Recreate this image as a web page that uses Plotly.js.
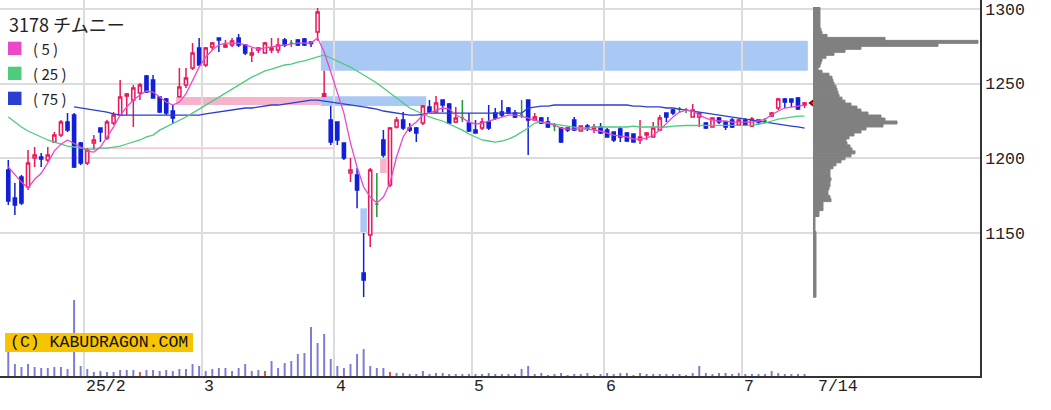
<!DOCTYPE html>
<html>
<head>
<meta charset="utf-8">
<script src="https://cdn.plot.ly/plotly-3.0.1.min.js"></script>
<style>html,body{margin:0;padding:0;background:#fff;}#chart{width:1051px;height:410px;}</style>
</head>
<body>
<div id="chart"></div>
<script>
// ---------------- data ----------------
const dates = [
'2025-01-16','2025-01-17','2025-01-20','2025-01-21','2025-01-22','2025-01-23','2025-01-24','2025-01-27','2025-01-28','2025-01-29',
'2025-01-30','2025-01-31','2025-02-03','2025-02-04','2025-02-05','2025-02-06','2025-02-07','2025-02-10','2025-02-12','2025-02-13',
'2025-02-14','2025-02-17','2025-02-18','2025-02-19','2025-02-20','2025-02-21','2025-02-25','2025-02-26','2025-02-27','2025-02-28',
'2025-03-03','2025-03-04','2025-03-05','2025-03-06','2025-03-07','2025-03-10','2025-03-11','2025-03-12','2025-03-13','2025-03-14',
'2025-03-17','2025-03-18','2025-03-19','2025-03-21','2025-03-24','2025-03-25','2025-03-26','2025-03-27','2025-03-28','2025-03-31',
'2025-04-01','2025-04-02','2025-04-03','2025-04-04','2025-04-07','2025-04-08','2025-04-09','2025-04-10','2025-04-11','2025-04-14',
'2025-04-15','2025-04-16','2025-04-17','2025-04-18','2025-04-21','2025-04-22','2025-04-23','2025-04-24','2025-04-25','2025-04-28',
'2025-04-30','2025-05-01','2025-05-02','2025-05-07','2025-05-08','2025-05-09','2025-05-12','2025-05-13','2025-05-14','2025-05-15',
'2025-05-16','2025-05-19','2025-05-20','2025-05-21','2025-05-22','2025-05-23','2025-05-26','2025-05-27','2025-05-28','2025-05-29',
'2025-05-30','2025-06-02','2025-06-03','2025-06-04','2025-06-05','2025-06-06','2025-06-09','2025-06-10','2025-06-11','2025-06-12',
'2025-06-13','2025-06-16','2025-06-17','2025-06-18','2025-06-19','2025-06-20','2025-06-23','2025-06-24','2025-06-25','2025-06-26',
'2025-06-27','2025-06-30','2025-07-01','2025-07-02','2025-07-03','2025-07-04','2025-07-07','2025-07-08','2025-07-09','2025-07-10',
'2025-07-11','2025-07-14'];

const open = [
1192.2,1173.4,1187.5,1180.8,1200.2,1200.9,1198.9,1210.9,1215.6,1224.3,
1229.0,1210.2,1196.8,1210.2,1220.3,1213.6,1223.6,1229.0,1241.7,1239.0,
1243.7,1255.1,1252.4,1241.0,1239.7,1231.7,1241.3,1249.1,1260.5,1273.9,
1262.5,1274.5,1280.6,1274.5,1275.9,1280.6,1275.9,1269.2,1272.5,1270.5,
1272.5,1272.5,1279.2,1277.2,1279.2,1279.9,1277.9,1284.6,1241.5,1225.6,
1224.3,1210.2,1190.2,1188.8,1123.2,1148.6,1169.2,1212.2,1182.1,1221.0,
1225.6,1220.3,1220.3,1223.6,1234.3,1231.0,1239.0,1236.4,1224.3,1227.0,
1223.6,1218.9,1220.3,1224.3,1230.3,1231.0,1233.7,1230.3,1229.0,1239.0,
1225.6,1227.0,1224.3,1221.6,1220.3,1220.3,1225.6,1218.3,1221.6,1219.6,
1221.0,1218.9,1217.6,1219.6,1216.9,1216.3,1212.2,1215.6,1214.3,1218.9,
1230.3,1232.3,1233.0,1232.3,1227.6,1227.6,1223.6,1221.0,1227.0,1224.3,
1225.6,1222.3,1225.6,1221.6,1225.6,1225.2,1228.3,1233.7,1239.7,1239.7,
1240.4,1235.7];

const high = [
1198.9,1183.5,1188.8,1205.6,1207.6,1203.5,1207.6,1217.6,1225.6,1230.3,
1230.3,1210.9,1206.9,1215.6,1220.3,1225.6,1231.0,1252.4,1243.7,1249.1,
1250.4,1255.8,1255.8,1241.2,1240.4,1235.7,1260.5,1260.5,1277.2,1280.6,
1274.5,1277.9,1280.8,1279.2,1280.6,1283.3,1276.5,1273.9,1274.5,1277.9,
1280.6,1280.6,1280.6,1279.2,1279.9,1280.6,1278.1,1300.6,1258.7,1235.0,
1224.6,1210.5,1200.2,1193.5,1150.0,1193.5,1190.2,1218.9,1221.0,1227.6,
1231.0,1223.6,1221.0,1235.7,1239.0,1241.7,1239.4,1237.0,1234.3,1239.0,
1230.3,1225.6,1227.0,1235.7,1233.7,1239.0,1234.3,1232.3,1239.0,1239.5,
1230.3,1227.6,1227.6,1223.6,1221.0,1220.5,1227.6,1222.0,1223.0,1223.0,
1223.6,1220.3,1217.8,1221.0,1217.6,1216.5,1225.6,1217.6,1224.3,1229.0,
1230.5,1233.0,1234.3,1233.7,1236.4,1230.5,1224.3,1227.2,1227.6,1225.0,
1227.0,1227.0,1227.0,1227.6,1225.8,1227.0,1231.0,1240.4,1240.4,1239.8,
1241.0,1237.7];

const low = [
1168.7,1162.0,1168.7,1178.8,1194.2,1194.2,1197.5,1210.2,1214.3,1217.6,
1193.5,1195.5,1195.5,1205.6,1210.9,1212.2,1222.3,1228.3,1229.0,1221.0,
1239.0,1243.7,1240.0,1230.3,1229.0,1223.0,1241.0,1247.1,1259.1,1262.0,
1261.1,1272.5,1271.2,1273.9,1274.5,1274.5,1269.2,1264.5,1270.5,1270.2,
1270.5,1270.5,1274.5,1274.5,1275.2,1275.2,1274.5,1278.8,1241.5,1208.9,
1208.9,1198.9,1184.1,1166.5,1107.1,1140.6,1160.7,1200.5,1180.8,1220.0,
1218.9,1217.6,1210.9,1222.3,1230.3,1230.7,1231.0,1223.0,1223.6,1224.3,
1217.6,1216.5,1218.9,1218.9,1225.6,1227.6,1229.5,1227.0,1227.0,1202.2,
1225.0,1223.0,1220.3,1218.3,1210.2,1217.6,1218.3,1218.0,1218.3,1217.0,
1216.3,1214.0,1210.9,1210.9,1210.9,1210.5,1209.6,1212.2,1214.0,1218.3,
1224.3,1229.0,1230.3,1230.3,1227.6,1221.0,1219.6,1220.8,1223.0,1219.0,
1220.3,1221.6,1221.6,1221.0,1222.3,1223.6,1227.6,1232.3,1233.7,1234.3,
1232.3,1233.7];

const close = [
1171.4,1168.7,1170.1,1196.9,1202.2,1199.5,1202.2,1215.6,1224.3,1218.9,
1194.2,1196.8,1205.6,1212.2,1217.6,1224.3,1229.0,1241.0,1243.0,1247.1,
1249.1,1244.4,1240.4,1231.0,1230.3,1227.0,1247.7,1253.8,1270.5,1262.5,
1273.9,1277.2,1279.2,1275.9,1278.5,1275.9,1270.5,1270.5,1273.9,1277.2,
1273.9,1275.9,1275.9,1277.2,1275.9,1275.9,1276.9,1298.0,1243.2,1210.9,
1212.2,1200.2,1192.2,1178.8,1118.5,1192.2,1169.2,1202.2,1220.3,1225.6,
1220.3,1218.9,1217.0,1235.0,1231.0,1237.0,1235.7,1223.6,1227.0,1227.0,
1218.3,1217.0,1224.3,1220.3,1227.0,1229.0,1230.3,1227.6,1229.0,1225.6,
1227.6,1223.6,1221.0,1221.6,1210.9,1219.0,1218.9,1221.6,1220.3,1221.0,
1217.0,1214.3,1212.2,1214.3,1211.6,1210.9,1214.3,1216.9,1220.3,1227.0,
1227.6,1230.3,1233.0,1232.3,1232.3,1230.3,1220.3,1227.0,1224.3,1221.0,
1221.0,1225.6,1222.3,1226.3,1224.3,1225.2,1230.3,1239.7,1237.7,1237.7,
1233.0,1237.0];

// volume, thousand shares
const volume = [
56,24,18,24,18,16,16,18,18,14,
152,20,14,8,10,8,8,12,12,12,
8,12,12,10,12,10,14,14,24,20,
10,14,16,16,10,16,24,10,12,10,
30,16,26,30,44,46,98,66,84,34,
20,16,24,44,54,20,16,16,8,6,
6,4,4,10,4,6,6,4,4,4,
4,4,4,6,4,4,4,4,14,20,
4,6,2,4,6,2,4,4,6,2,
4,6,4,6,6,2,6,4,4,4,
4,4,4,2,6,20,6,4,6,6,
4,6,4,4,4,4,10,6,4,4,
4,4];
const volumeRedDays = ['2025-02-14','2025-03-14','2025-04-11'];

// moving averages
const ma5 = [
1194.2,1188.8,1184.1,1180.1,1186.0,1190.0,1197.0,1205.0,1209.5,1212.3,
1210.2,1207.6,1204.9,1204.2,1207.6,1214.3,1221.0,1229.0,1234.4,1239.0,
1242.4,1245.1,1244.4,1241.0,1237.7,1235.7,1237.7,1243.1,1252.4,1261.1,
1267.8,1272.5,1275.9,1277.2,1277.2,1277.2,1275.9,1274.5,1273.2,1273.9,
1274.5,1275.2,1275.9,1276.5,1277.2,1277.2,1277.2,1280.6,1271.2,1257.8,
1244.4,1230.3,1210.2,1194.2,1180.8,1174.1,1170.1,1174.1,1183.5,1200.9,
1214.3,1221.0,1224.3,1229.0,1230.3,1232.3,1233.7,1233.0,1229.0,1227.0,
1224.3,1223.0,1223.6,1225.0,1226.3,1227.7,1229.0,1229.0,1228.3,1227.0,
1225.6,1224.3,1223.6,1222.3,1220.3,1219.6,1219.6,1219.6,1219.6,1218.9,
1218.3,1216.9,1215.6,1214.9,1214.3,1212.9,1212.9,1213.6,1215.6,1218.9,
1223.6,1227.7,1231.0,1232.3,1231.7,1229.0,1227.0,1225.6,1225.0,1225.0,
1224.3,1224.3,1224.3,1224.3,1225.0,1226.3,1229.0,1231.7,1233.7,1234.4,
1235.0,1235.7];

const ma25 = [
1227.7,1224.3,1221.0,1218.3,1216.3,1214.3,1212.3,1210.9,1209.6,1208.2,
1207.6,1206.9,1206.2,1206.2,1206.9,1206.9,1207.6,1208.2,1209.6,1210.9,
1212.3,1214.3,1215.6,1218.9,1221.0,1223.6,1225.6,1227.7,1230.3,1233.0,
1235.7,1238.4,1241.0,1243.7,1246.4,1249.1,1251.8,1254.4,1256.4,1258.5,
1259.8,1261.1,1262.5,1263.1,1264.5,1265.2,1266.5,1267.8,1269.2,1267.2,
1265.2,1263.1,1261.1,1258.5,1255.8,1253.1,1250.4,1247.1,1243.7,1240.4,
1237.0,1233.7,1231.7,1229.7,1227.7,1226.3,1225.0,1223.0,1221.0,1218.9,
1216.3,1214.3,1212.3,1211.6,1210.9,1211.6,1212.9,1214.9,1217.6,1220.3,
1223.6,1224.3,1223.6,1223.0,1222.3,1221.6,1221.0,1220.3,1220.3,1221.0,
1221.0,1221.0,1221.0,1221.0,1221.0,1221.6,1221.0,1221.0,1221.0,1221.0,
1221.0,1221.6,1222.0,1222.0,1222.0,1222.0,1222.0,1222.0,1222.0,1222.0,
1222.0,1222.0,1222.0,1222.3,1223.0,1223.6,1225.0,1226.3,1227.0,1227.7,
1228.3,1228.3];

const ma75 = [
null,null,null,null,null,null,null,null,null,null,
1234.4,1233.7,1233.0,1232.3,1231.7,1231.0,1229.7,1229.0,1229.0,1229.0,
1229.0,1229.0,1229.0,1229.0,1229.0,1229.0,1229.0,1229.0,1229.0,1229.0,
1229.7,1230.3,1231.0,1231.7,1232.3,1233.0,1233.7,1233.7,1234.4,1235.0,
1235.7,1235.7,1236.4,1237.0,1237.7,1238.4,1239.0,1239.0,1238.4,1237.7,
1237.0,1236.4,1235.7,1235.0,1234.4,1233.7,1233.0,1231.7,1231.0,1230.3,
1229.7,1229.0,1229.0,1229.7,1230.3,1230.3,1230.3,1230.3,1230.3,1230.3,
1230.3,1230.3,1230.3,1230.3,1230.3,1230.3,1230.3,1230.3,1230.3,1233.7,
1234.4,1235.0,1235.0,1235.7,1235.7,1235.7,1235.7,1235.7,1235.7,1235.7,
1235.7,1235.7,1235.7,1235.7,1235.7,1235.0,1235.0,1234.4,1234.4,1234.4,
1233.7,1233.7,1233.0,1232.3,1231.7,1231.0,1230.3,1229.7,1229.0,1228.3,
1227.7,1227.0,1226.3,1225.6,1225.0,1224.3,1223.6,1223.0,1222.3,1221.6,
1221.0,1220.3];

// price-by-volume profile (price bins, relative volume)
const profilePrice = [
1300,1298,1296,1294,1292,1290,1288,1286,1284,1282,
1280,1278,1276,1274,1272,1270,1268,1266,1264,1262,
1260,1258,1256,1254,1252,1250,1248,1246,1244,1242,
1240,1238,1236,1234,1232,1230,1228,1226,1224,1222,
1220,1218,1216,1214,1212,1210,1208,1206,1204,1202,
1200,1198,1196,1194,1192,1190,1188,1186,1184,1182,
1180,1178,1176,1174,1172,1170,1168,1166,1164,1162,
1160,1158,1156,1154,1152,1150,1148,1146,1144,1142,
1140,1138,1136,1134,1132,1130,1128,1126,1124,1122,
1120,1118,1116,1114,1112,1110,1108];
const profileVolume = [
7,7,7,7,7,7,7,8,9,14,
72,165,125,48,32,21,13,9,8,7,
5,9,16,19,20,21,23,24,25,26,
29,32,38,44,48,55,68,72,84,70,
53,48,41,36,33,34,37,39,42,38,
32,28,23,20,17,17,17,18,17,17,
16,15,15,17,18,10,10,10,6,6,
2,2,2,2,2,3,3,3,3,3,
3,3,3,3,3,3,3,3,3,3,
3,3,3,3,3,3,3];

// price gaps (窓): from/to trading day, price range, direction
const gapZones = [
  {from:'2025-01-31', to:'2025-03-31', low:1206.5, high:1207.3, dir:'up'},
  {from:'2025-02-21', to:'2025-03-27', low:1235.7, high:1241.0, dir:'up'},
  {from:'2025-03-27', to:'2025-07-14', low:1258.7, high:1278.8, dir:'down'},
  {from:'2025-03-27', to:'2025-04-18', low:1235.0, high:1241.5, dir:'down'},
  {from:'2025-04-04', to:'2025-04-07', low:1150.0, high:1166.5, dir:'down'},
  {from:'2025-04-09', to:'2025-04-10', low:1190.1, high:1200.2, dir:'up'}
];

const tickLabels = ['25/2','3','4','5','6','7'];
const lastLabel = '7/14';
const yTicks = [1150,1200,1250,1300];
const stockName = '3178 チムニー';
const maLabels = ['( 5 )','( 25 )','( 75 )'];
const copyright = '(C) KABUDRAGON.COM';

// ---------------- drawing ----------------
const RED = '#e8185a', BLUE = '#1020d8', GREEN = '#1e9a2a';
const C5 = '#ea48c8', C25 = '#4ccc7c', C75 = '#2a3ed0';
const W = 980, H = 376;
const px = v => v / W, py = v => 1 - v / H;
const AXFONT = {family: 'Liberation Mono', size: 16.5, color: '#222'};

const idx = dates.map((d, i) => i);
const last = idx.length - 1;
const doji = idx.filter(i => open[i] === close[i]);
const normal = idx.filter(i => open[i] !== close[i]);
const pick = (arr, ids) => ids.map(i => arr[i]);

const monthBounds = [];
for (let i = 1; i < dates.length; i++) {
  if (dates[i].slice(5, 7) !== dates[i - 1].slice(5, 7)) monthBounds.push(i - 0.5);
}

const traces = [];
traces.push({
  type: 'bar', x: idx, y: volume, yaxis: 'y2', width: 0.3,
  marker: {color: idx.map(i => volumeRedDays.includes(dates[i]) ? '#e05050' : '#7c7cd6'), line: {width: 0}},
  hoverinfo: 'skip'
});
traces.push({
  type: 'bar', orientation: 'h', x: profileVolume, y: profilePrice, xaxis: 'x3', yaxis: 'y',
  width: 2, marker: {color: '#808080', line: {width: 1, color: '#808080'}}, hoverinfo: 'skip'
});
traces.push({type: 'scatter', mode: 'lines', x: idx, y: ma75, line: {color: C75, width: 1.3}, hoverinfo: 'skip'});
traces.push({type: 'scatter', mode: 'lines', x: idx, y: ma25, line: {color: C25, width: 1.3}, hoverinfo: 'skip'});
traces.push({type: 'scatter', mode: 'lines', x: idx, y: ma5, line: {color: C5, width: 1.3}, hoverinfo: 'skip'});
traces.push({
  type: 'candlestick', x: normal, open: pick(open, normal), high: pick(high, normal),
  low: pick(low, normal), close: pick(close, normal), whiskerwidth: 0,
  increasing: {line: {color: RED, width: 1.5}, fillcolor: '#fff4f7'},
  decreasing: {line: {color: BLUE, width: 1.5}, fillcolor: BLUE},
  hoverinfo: 'skip'
});
traces.push({
  type: 'candlestick', x: doji, open: pick(open, doji), high: pick(high, doji),
  low: pick(low, doji), close: pick(close, doji), whiskerwidth: 0,
  increasing: {line: {color: GREEN, width: 1.5}, fillcolor: GREEN},
  decreasing: {line: {color: GREEN, width: 1.5}, fillcolor: GREEN},
  hoverinfo: 'skip'
});
traces.push({
  type: 'scatter', mode: 'markers', x: [last + 1.6], y: [close[last]],
  marker: {symbol: 'triangle-left', size: 11, color: '#ff2020', line: {color: '#700000', width: 1.5}},
  hoverinfo: 'skip'
});

const shapes = gapZones.map(z => ({
  type: 'rect', xref: 'x', yref: 'y',
  x0: dates.indexOf(z.from) + 0.5, x1: dates.indexOf(z.to) + 0.5,
  y0: z.low, y1: z.high,
  fillcolor: z.dir === 'up' ? '#f6b4cc' : '#a9c9f4', line: {width: 0}, layer: 'below'
}));
[C5, C25, C75].forEach((c, k) => {
  shapes.push({type: 'rect', xref: 'paper', yref: 'paper', x0: px(8), x1: px(21.5), y0: py(55 + 25 * k), y1: py(41.7 + 25 * k),
    fillcolor: c, line: {width: 0}});
});
shapes.push({type: 'rect', xref: 'paper', yref: 'paper', x0: px(5), x1: px(193), y0: py(352), y1: py(333),
  fillcolor: '#f6c400', line: {width: 0}});

const annotations = [];
annotations.push({xref: 'paper', yref: 'paper', x: px(7), y: py(24), xanchor: 'left', yanchor: 'middle', showarrow: false,
  text: stockName, font: {family: 'Noto Sans CJK JP', size: 18, color: '#222'}});
maLabels.forEach((t, k) => annotations.push({xref: 'paper', yref: 'paper', x: px(31), y: py(48.5 + 25 * k),
  xanchor: 'left', yanchor: 'middle', showarrow: false, text: t,
  font: {family: 'Noto Sans CJK JP', size: 15, color: '#222'}}));
annotations.push({xref: 'paper', yref: 'paper', x: px(99), y: py(342.5), xanchor: 'center', yanchor: 'middle', showarrow: false,
  text: copyright, font: {family: 'Liberation Mono', size: 16.5, color: '#111'}});
monthBounds.forEach((b, k) => annotations.push({xref: 'x', yref: 'paper', x: b, y: py(386), xanchor: 'left', yanchor: 'middle',
  xshift: 0, showarrow: false, text: tickLabels[k], font: AXFONT}));
annotations.push({xref: 'x', yref: 'paper', x: last, y: py(386), xanchor: 'left', yanchor: 'middle', xshift: 11,
  showarrow: false, text: lastLabel, font: AXFONT});

const layout = {
  width: 1051, height: 410,
  margin: {l: 0, r: 71, t: 0, b: 34, pad: 0},
  paper_bgcolor: '#fff', plot_bgcolor: '#fff',
  showlegend: false, hovermode: false, barmode: 'overlay', boxgap: 0.32,
  xaxis: {range: [-1.26, 147.66], tickvals: monthBounds, showticklabels: false, ticks: '',
    showgrid: true, gridcolor: '#dcdcdc', gridwidth: 2, zeroline: false,
    showline: true, linecolor: '#333', linewidth: 2, rangeslider: {visible: false}, fixedrange: true},
  yaxis: {range: [1054.24, 1306.03], side: 'right', tickvals: yTicks, ticktext: yTicks.map(String),
    showgrid: true, gridcolor: '#dcdcdc', gridwidth: 2, zeroline: false,
    showline: true, linecolor: '#333', linewidth: 2, ticks: 'inside', ticklen: 5, tickcolor: '#333', tickwidth: 1.5,
    tickfont: AXFONT, ticklabeloverflow: 'allow', fixedrange: true},
  yaxis2: {overlaying: 'y', range: [0, 752], visible: false, fixedrange: true},
  xaxis3: {domain: [813 / W, 1], range: [0, 167], anchor: 'y', visible: false, fixedrange: true},
  shapes: shapes,
  annotations: annotations
};

Plotly.newPlot('chart', traces, layout, {displayModeBar: false, staticPlot: true});
</script>
</body>
</html>
